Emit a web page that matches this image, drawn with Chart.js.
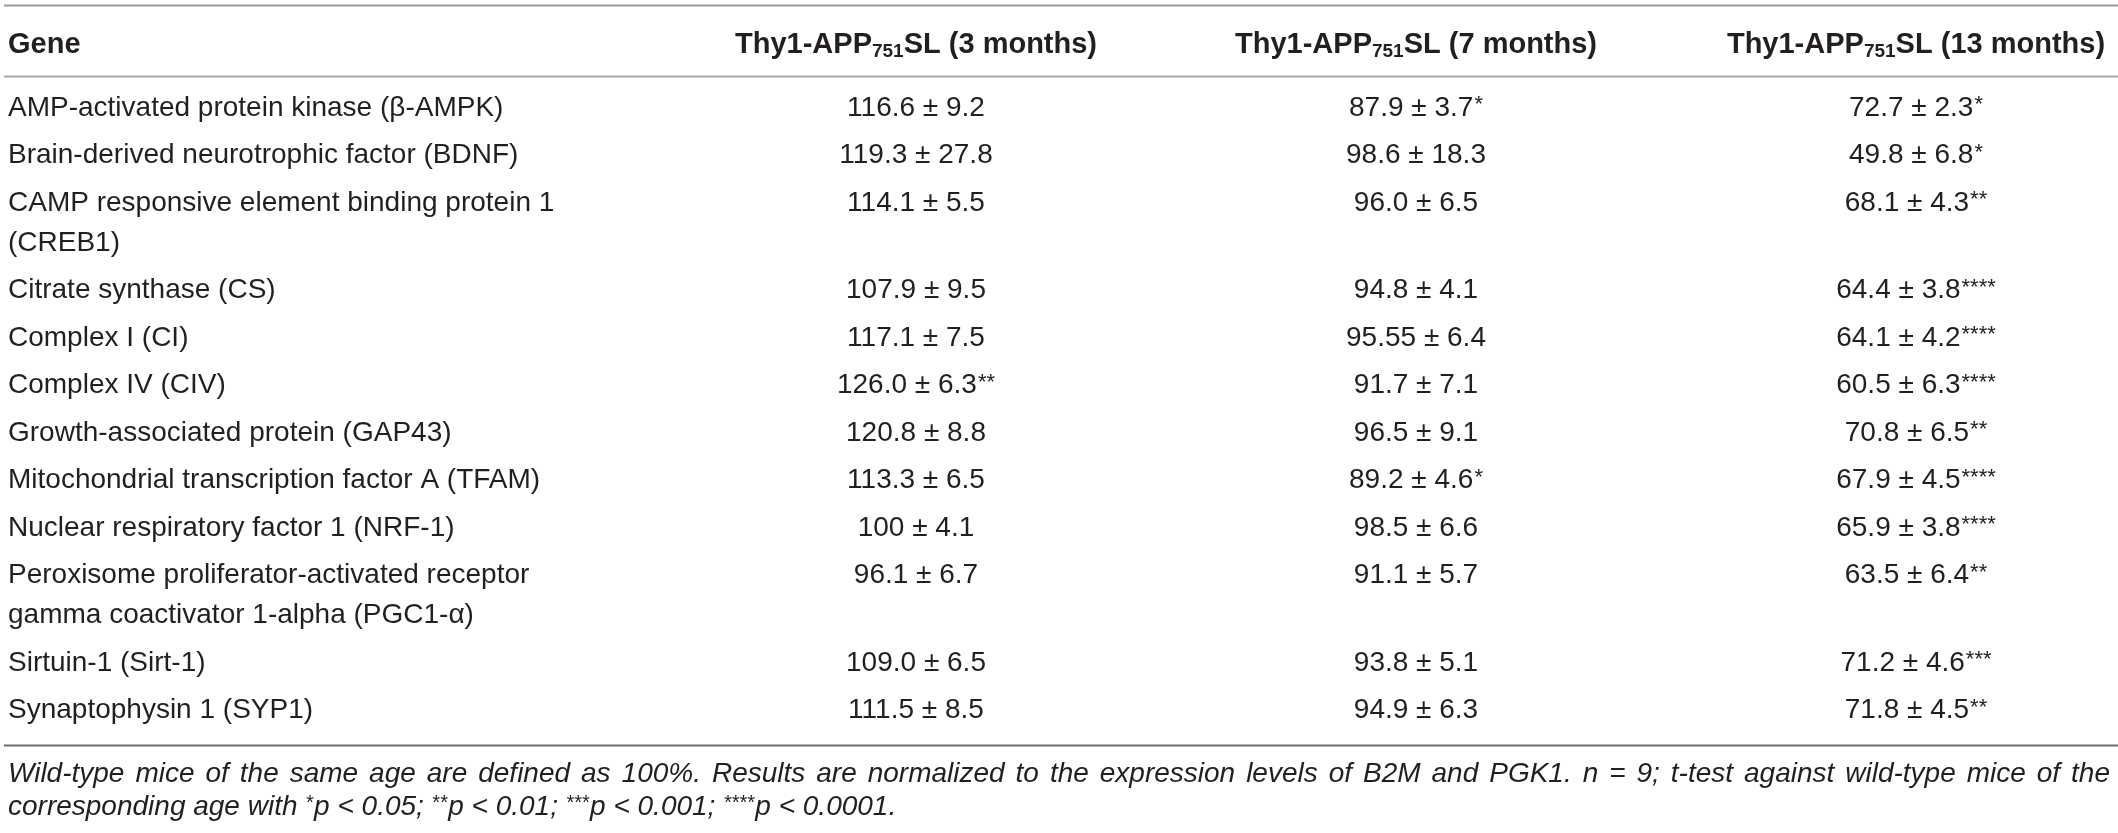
<!DOCTYPE html>
<html>
<head>
<meta charset="utf-8">
<script src="https://cdn.jsdelivr.net/npm/chart.js@4.4.1/dist/chart.umd.min.js"></script>
<style>
  html, body { margin: 0; padding: 0; background: #fff; }
  canvas { display: block; }
</style>
</head>
<body>
<canvas id="table" width="2118" height="833"></canvas>
<script>
// table contents
const geneHeader = 'Gene';
const ageLabels = ['3 months', '7 months', '13 months'];

const genes = [
  'AMP-activated protein kinase (\u03b2-AMPK)',
  'Brain-derived neurotrophic factor (BDNF)',
  'CAMP responsive element binding protein 1\n(CREB1)',
  'Citrate synthase (CS)',
  'Complex I (CI)',
  'Complex IV (CIV)',
  'Growth-associated protein (GAP43)',
  'Mitochondrial transcription factor A (TFAM)',
  'Nuclear respiratory factor 1 (NRF-1)',
  'Peroxisome proliferator-activated receptor\ngamma coactivator 1-alpha (PGC1-\u03b1)',
  'Sirtuin-1 (Sirt-1)',
  'Synaptophysin 1 (SYP1)'
];

const mean3 = ['116.6', '119.3', '114.1', '107.9', '117.1', '126.0', '120.8', '113.3', '100', '96.1', '109.0', '111.5'];
const sem3  = ['9.2', '27.8', '5.5', '9.5', '7.5', '6.3', '8.8', '6.5', '4.1', '6.7', '6.5', '8.5'];
const sig3  = ['', '', '', '', '', '**', '', '', '', '', '', ''];

const mean7 = ['87.9', '98.6', '96.0', '94.8', '95.55', '91.7', '96.5', '89.2', '98.5', '91.1', '93.8', '94.9'];
const sem7  = ['3.7', '18.3', '6.5', '4.1', '6.4', '7.1', '9.1', '4.6', '6.6', '5.7', '5.1', '6.3'];
const sig7  = ['*', '', '', '', '', '', '', '*', '', '', '', ''];

const mean13 = ['72.7', '49.8', '68.1', '64.4', '64.1', '60.5', '70.8', '67.9', '65.9', '63.5', '71.2', '71.8'];
const sem13  = ['2.3', '6.8', '4.3', '3.8', '4.2', '6.3', '6.5', '4.5', '3.8', '6.4', '4.6', '4.5'];
const sig13  = ['*', '*', '**', '****', '****', '****', '**', '****', '****', '**', '***', '**'];

const noteLine1 = 'Wild-type mice of the same age are defined as 100%. Results are normalized to the expression levels of B2M and PGK1. n = 9; t-test against wild-type mice of the';
const noteLine2 = [
  ['corresponding age with ', false], ['*', true], ['p < 0.05; ', false],
  ['**', true], ['p < 0.01; ', false], ['***', true], ['p < 0.001; ', false],
  ['****', true], ['p < 0.0001.', false]
];

// layout (row units: 1 = one table row)
const ROW_PX = 47.5;
const HEAD_PX = 45;
const EXTRA_LINE = 0.842;
const FIRST_ROW = 1.326;
const W = 2118, H = 833;
const COL_PX = 500, FIRST_COL_PX = 916, LEFT_PX = 8;

const yMin = -HEAD_PX / ROW_PX;
const yMax = yMin + H / ROW_PX;
const xMin = 1 - FIRST_COL_PX / COL_PX;
const xMax = xMin + W / COL_PX;
const geneX = xMin + LEFT_PX / COL_PX;

const rowY = [];
let pos = FIRST_ROW;
genes.forEach(g => {
  rowY.push(pos);
  pos += 1 + EXTRA_LINE * (g.split('\n').length - 1);
});
const lastRow = rowY[rowY.length - 1] + EXTRA_LINE * (genes[genes.length - 1].split('\n').length - 1);

const columns = [
  { mean: mean3, sem: sem3, sig: sig3 },
  { mean: mean7, sem: sem7, sig: sig7 },
  { mean: mean13, sem: sem13, sig: sig13 }
];

const TEXT = '#231f20';
const FONT = '"Liberation Sans", Arial, Helvetica, sans-serif';

function drawValue(ctx, x, y, main, stars) {
  ctx.font = '28px ' + FONT;
  const w1 = ctx.measureText(main).width;
  ctx.font = '22px ' + FONT;
  const w2 = stars ? ctx.measureText(stars).width + 1 : 0;
  let left = x - (w1 + w2) / 2;
  ctx.textAlign = 'left';
  ctx.font = '28px ' + FONT;
  ctx.fillText(main, left, y);
  if (stars) {
    ctx.font = '22px ' + FONT;
    ctx.fillText(stars, left + w1 + 1, y - 3);
  }
}

function drawHeader(ctx, x, y, age) {
  const parts = [
    ['Thy1-APP', 'bold 29px ', 0],
    ['751', 'bold 19px ', 7],
    ['SL (' + age + ')', 'bold 29px ', 0]
  ];
  let total = 0;
  parts.forEach(p => { ctx.font = p[1] + FONT; total += ctx.measureText(p[0]).width; });
  let left = x - total / 2;
  ctx.textAlign = 'left';
  parts.forEach(p => {
    ctx.font = p[1] + FONT;
    ctx.fillText(p[0], left, y + p[2]);
    left += ctx.measureText(p[0]).width;
  });
}

const tablePlugin = {
  id: 'tableText',
  afterDatasetsDraw(chart) {
    const ctx = chart.ctx;
    const xs = chart.scales.x, ys = chart.scales.y;
    const area = chart.chartArea;
    ctx.save();
    ctx.fillStyle = TEXT;
    ctx.textBaseline = 'middle';

    // rules
    const rule = (v, color) => {
      const py = Math.round(ys.getPixelForValue(v)) + 0.5;
      ctx.strokeStyle = color;
      ctx.lineWidth = 2;
      ctx.beginPath();
      ctx.moveTo(area.left + 4, py);
      ctx.lineTo(area.right, py);
      ctx.stroke();
    };
    rule(-0.842, '#9a9a9a');
    rule(0.653, '#a8a8a8');
    rule(lastRow + 0.72, '#6e6e6e');

    // header row
    const hy = ys.getPixelForValue(0);
    ctx.font = 'bold 29px ' + FONT;
    ctx.textAlign = 'left';
    ctx.fillText(geneHeader, xs.getPixelForValue(geneX), hy);
    ageLabels.forEach((a, i) => drawHeader(ctx, xs.getPixelForValue(i + 1), hy, a));

    // cells
    chart.data.datasets.forEach((ds, di) => {
      const meta = chart.getDatasetMeta(di);
      meta.data.forEach((pt, i) => {
        if (di === 0) {
          ctx.font = '28px ' + FONT;
          ctx.textAlign = 'left';
          genes[i].split('\n').forEach((line, k) => {
            ctx.fillText(line, pt.x, ys.getPixelForValue(ds.data[i].y + k * EXTRA_LINE));
          });
        } else {
          const c = columns[di - 1];
          drawValue(ctx, pt.x, pt.y, c.mean[i] + ' \u00b1 ' + c.sem[i], c.sig[i]);
        }
      });
    });

    // footnote
    const left = xs.getPixelForValue(geneX);
    const right = area.right - 8;
    ctx.textAlign = 'left';
    ctx.font = 'italic 28px ' + FONT;
    const f1 = ys.getPixelForValue(lastRow + 0.72 + 0.63);
    const words = noteLine1.split(' ');
    const ww = words.map(w => ctx.measureText(w).width);
    const gap = (right - left - ww.reduce((a, b) => a + b, 0)) / (words.length - 1);
    let x = left;
    words.forEach((w, i) => { ctx.fillText(w, x, f1); x += ww[i] + gap; });

    const f2 = ys.getPixelForValue(lastRow + 0.72 + 0.63 + 0.695);
    x = left;
    noteLine2.forEach(([t, sup]) => {
      ctx.font = (sup ? 'italic 20px ' : 'italic 28px ') + FONT;
      ctx.fillText(t, x, sup ? f2 - 4 : f2);
      x += ctx.measureText(t).width + (sup ? 1 : 0);
    });
    ctx.restore();
  }
};

const colX = [geneX, 1, 2, 3];
const datasets = colX.map((cx, c) => ({
  label: c === 0 ? geneHeader : ageLabels[c - 1],
  data: genes.map((g, i) => ({ x: cx, y: rowY[i] })),
  pointRadius: 0,
  showLine: false
}));

new Chart(document.getElementById('table'), {
  type: 'scatter',
  data: { datasets },
  options: {
    responsive: false,
    animation: false,
    events: [],
    layout: { padding: 0 },
    plugins: { legend: { display: false }, tooltip: { enabled: false } },
    scales: {
      x: { type: 'linear', display: false, min: xMin, max: xMax },
      y: { type: 'linear', display: false, reverse: true, min: yMin, max: yMax }
    }
  },
  plugins: [tablePlugin]
});
</script>
</body>
</html>
